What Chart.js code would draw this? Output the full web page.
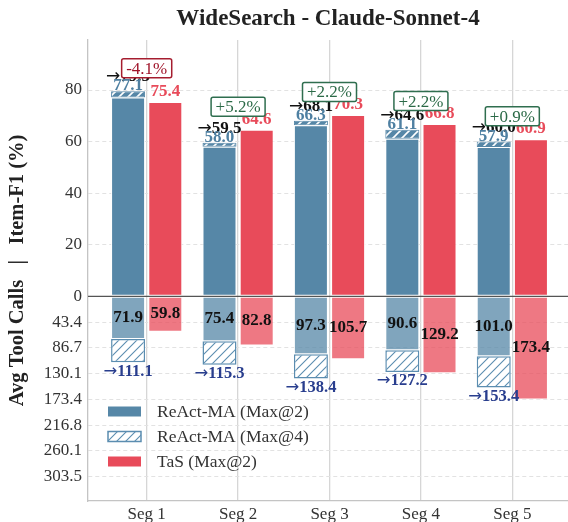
<!DOCTYPE html>
<html>
<head>
<meta charset="utf-8">
<script src="https://cdn.jsdelivr.net/npm/chart.js@4.4.1/dist/chart.umd.min.js"></script>
<style>
  html, body { margin: 0; padding: 0; background: #fff; }
  canvas { display: block; }
</style>
</head>
<body>
<canvas id="chart" width="568" height="522"></canvas>
<script>
const segments = ["Seg 1", "Seg 2", "Seg 3", "Seg 4", "Seg 5"];

// Item-F1 (%) above zero
const f1Max2 = [77.1, 58.0, 66.3, 61.1, 57.9];
const f1Max4 = [79.5, 59.5, 68.1, 64.6, 60.0];
const f1Tas = [75.4, 64.6, 70.3, 66.8, 60.9];

// avg tool calls below zero
const callsMax2 = [71.9, 75.4, 97.3, 90.6, 101.0];
const callsMax4 = [111.1, 115.3, 138.4, 127.2, 153.4];
const callsTas = [59.8, 82.8, 105.7, 129.2, 173.4];

const deltaLabels = ["-4.1%", "+5.2%", "+2.2%", "+2.2%", "+0.9%"];

const f1Ticks = [80, 60, 40, 20, 0];
const callTickLabels = ["43.4", "86.7", "130.1", "173.4", "216.8", "260.1", "303.5"];

// the largest call count (173.4) is drawn at -40 on the shared axis
const CALL_SCALE = 173.4 / 40;

const BLUE = "#5687a7";
const BLUE_LIGHT = "rgba(86, 135, 167, 0.75)";
const HATCH_BLUE = "#5b8db0";
const RED = "#e84b5a";
const RED_LIGHT = "rgba(232, 75, 90, 0.75)";
const SERIF = "'Liberation Serif', 'DejaVu Serif', serif";

const canvas = document.getElementById("chart");
const ctx = canvas.getContext("2d");

function hatch(bg, fg, lw) {
    const s = 9;
    const c = document.createElement("canvas");
    c.width = s;
    c.height = s;
    const g = c.getContext("2d");
    g.fillStyle = bg;
    g.fillRect(0, 0, s, s);
    g.strokeStyle = fg;
    g.lineWidth = lw;
    g.beginPath();
    g.moveTo(0, s); g.lineTo(s, 0);
    g.moveTo(-2, 2); g.lineTo(2, -2);
    g.moveTo(s - 2, s + 2); g.lineTo(s + 2, s - 2);
    g.stroke();
    return ctx.createPattern(c, "repeat");
}

const hatchTop = hatch(BLUE, "#ffffff", 1.6);
const hatchBottom = hatch("#ffffff", HATCH_BLUE, 1.1);

const toCalls = (v) => -v / CALL_SCALE;
const range = (a, b) => segments.map((_, i) => ({ x: i, y: [a[i], b[i]] }));
const fromZero = (a, f) => segments.map((_, i) => ({ x: i, y: [0, f ? f(a[i]) : a[i]] }));

// "→value" with the arrow from DejaVu Sans, like matplotlib's fallback
function arrowLabel(c, value, x, y, size, color) {
    const af = size + "px 'DejaVu Sans'";
    const nf = "bold " + size + "px " + SERIF;
    const txt = value.toFixed(1);
    c.font = af;
    const wa = c.measureText("\u2192").width;
    c.font = nf;
    const wn = c.measureText(txt).width;
    const x0 = x - (wa + wn) / 2;
    c.save();
    c.textAlign = "left";
    c.fillStyle = color;
    c.font = af;
    c.fillText("\u2192", x0, y);
    c.font = nf;
    c.fillText(txt, x0 + wa, y);
    c.restore();
}

const labelsPlugin = {
    id: "labels",
    afterDatasetsDraw(chart) {
        const c = chart.ctx;
        const y = chart.scales.y;
        const area = chart.chartArea;
        const blue = chart.getDatasetMeta(0).data;
        const red = chart.getDatasetMeta(2).data;

        // zero line
        c.save();
        c.strokeStyle = "#555";
        c.lineWidth = 1.3;
        c.beginPath();
        c.moveTo(area.left, y.getPixelForValue(0));
        c.lineTo(area.right, y.getPixelForValue(0));
        c.stroke();

        c.textAlign = "center";
        for (let i = 0; i < segments.length; i++) {
            const bx = blue[i].x;
            const rx = red[i].x;

            // top half
            c.textBaseline = "alphabetic";
            arrowLabel(c, f1Max4[i], bx, y.getPixelForValue(f1Max4[i]) - 10, 17, "#111");
            c.font = "bold 17px " + SERIF;
            c.fillStyle = "#4f80a2";
            c.fillText(f1Max2[i].toFixed(1), bx, y.getPixelForValue(f1Max4[i]) - 1);
            c.fillStyle = RED;
            c.fillText(f1Tas[i].toFixed(1), rx, y.getPixelForValue(f1Tas[i]) - 6);

            // bottom half
            c.textBaseline = "middle";
            c.fillStyle = "#111";
            c.fillText(callsMax2[i].toFixed(1), bx, y.getPixelForValue(toCalls(callsMax2[i]) / 2));
            c.fillText(callsTas[i].toFixed(1), rx, y.getPixelForValue(toCalls(callsTas[i]) / 2));
            arrowLabel(c, callsMax4[i], bx, y.getPixelForValue(toCalls(callsMax4[i])) + 9, 16.5, "#293e8e");

            // delta box
            const top = Math.max(f1Max4[i], f1Tas[i]);
            const cx = (bx + rx) / 2;
            const cy = y.getPixelForValue(top) - 23;
            const neg = deltaLabels[i].startsWith("-");
            c.font = "17px " + SERIF;
            const w = c.measureText(deltaLabels[i]).width + 9;
            const h = 19;
            c.beginPath();
            c.roundRect(cx - w / 2, cy - h / 2, w, h, 2);
            c.fillStyle = "#fff";
            c.fill();
            c.lineWidth = 1.5;
            c.strokeStyle = neg ? "#a51d2f" : "#2f6e4f";
            c.stroke();
            c.fillStyle = neg ? "#a0142a" : "#2b6a47";
            c.fillText(deltaLabels[i], cx, cy + 1);
        }

        // legend
        const items = [
            { text: "ReAct-MA (Max@2)", fill: BLUE, edge: null },
            { text: "ReAct-MA (Max@4)", fill: hatchBottom, edge: HATCH_BLUE },
            { text: "TaS (Max@2)", fill: RED, edge: null },
        ];
        c.textAlign = "left";
        c.textBaseline = "middle";
        c.font = "17.5px " + SERIF;
        items.forEach((it, k) => {
            const ly = 411.5 + k * 25;
            c.fillStyle = it.fill;
            c.fillRect(108, ly - 5, 33, 10);
            if (it.edge) {
                c.strokeStyle = it.edge;
                c.lineWidth = 1.5;
                c.strokeRect(108, ly - 5, 33, 10);
            }
            c.fillStyle = "#333";
            c.fillText(it.text, 157, ly + 1);
        });

        // y axis title, centred on the plot
        c.translate(18, (area.top + area.bottom) / 2);
        c.rotate(-Math.PI / 2);
        c.textAlign = "center";
        c.font = "bold 20.5px " + SERIF;
        c.fillStyle = "#222";
        c.fillText("Avg Tool Calls   |   Item-F1 (%)", 0, 0);
        c.restore();
    },
};

new Chart(ctx, {
    type: "bar",
    data: {
        datasets: [
            {
                label: "ReAct-MA (Max@2)",
                data: fromZero(f1Max2),
                stack: "react",
                backgroundColor: BLUE,
                borderColor: "#fff",
                borderWidth: 1,
            },
            {
                label: "ReAct-MA (Max@4)",
                data: range(f1Max2, f1Max4),
                stack: "react",
                backgroundColor: hatchTop,
                borderColor: BLUE,
                borderWidth: 1,
            },
            {
                label: "TaS (Max@2)",
                data: fromZero(f1Tas),
                stack: "tas",
                backgroundColor: RED,
                borderColor: "#fff",
                borderWidth: 1,
            },
            {
                label: "ReAct-MA calls (Max@2)",
                data: fromZero(callsMax2, toCalls),
                stack: "react",
                backgroundColor: BLUE_LIGHT,
                borderColor: "#fff",
                borderWidth: 1,
            },
            {
                label: "ReAct-MA calls (Max@4)",
                data: segments.map((_, i) => ({ x: i, y: [toCalls(callsMax2[i]), toCalls(callsMax4[i])] })),
                stack: "react",
                backgroundColor: hatchBottom,
                borderColor: HATCH_BLUE,
                borderWidth: 1.5,
            },
            {
                label: "TaS calls (Max@2)",
                data: fromZero(callsTas, toCalls),
                stack: "tas",
                backgroundColor: RED_LIGHT,
                borderColor: "#fff",
                borderWidth: 1,
            },
        ],
    },
    options: {
        responsive: false,
        animation: false,
        devicePixelRatio: 1,
        categoryPercentage: 0.814,
        barPercentage: 0.914,
        borderSkipped: false,
        layout: { padding: { left: 0, right: 0, top: 0, bottom: 0 } },
        plugins: {
            legend: { display: false },
            tooltip: { enabled: false },
            title: {
                display: true,
                text: "WideSearch - Claude-Sonnet-4",
                fullSize: false,
                color: "#222",
                font: { family: SERIF, size: 23, weight: "bold", lineHeight: 1.2 },
                padding: { top: 5, bottom: 7.4 },
            },
        },
        scales: {
            x: {
                type: "linear",
                offset: false,
                min: -0.642,
                max: 4.609,
                afterBuildTicks: (axis) => {
                    axis.ticks = segments.map((_, i) => ({ value: i }));
                },
                afterFit: (axis) => {
                    axis.height = 21;
                },
                ticks: {
                    callback: (v) => segments[v],
                    color: "#333",
                    padding: 3,
                    font: { family: SERIF, size: 17 },
                },
                grid: { offset: false, color: "#d6d6d6", lineWidth: 1.3, drawTicks: false },
                border: { color: "#c4c4c4", width: 1.3 },
            },
            y: {
                stacked: false,
                min: -79.4,
                max: 99.4,
                afterBuildTicks: (axis) => {
                    const vals = f1Ticks.concat(callTickLabels.map((_, k) => -10 * (k + 1)));
                    axis.ticks = vals.map((v) => ({ value: v }));
                },
                afterFit: (axis) => {
                    axis.width = 88;
                },
                ticks: {
                    callback: (v) => (v >= 0 ? String(v) : callTickLabels[Math.round(-v / 10) - 1]),
                    color: "#333",
                    padding: 6,
                    font: { family: SERIF, size: 17 },
                },
                grid: {
                    color: (c) => (c.tick && c.tick.value === 0 ? "rgba(0,0,0,0)" : "#e2e2e2"),
                    lineWidth: 1,
                    drawTicks: false,
                },
                border: { color: "#c4c4c4", width: 1.3, dash: [4, 3] },
            },
        },
    },
    plugins: [labelsPlugin],
});
</script>
</body>
</html>
